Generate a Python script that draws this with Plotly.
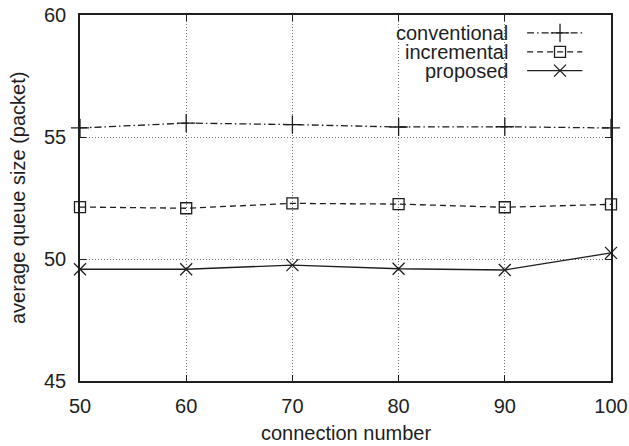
import plotly.graph_objects as go

connections = [50, 60, 70, 80, 90, 100]
conventional = [55.37, 55.57, 55.51, 55.41, 55.42, 55.37]
incremental = [52.13, 52.08, 52.28, 52.25, 52.12, 52.24]
proposed = [49.58, 49.58, 49.75, 49.60, 49.55, 50.25]

series_names = ["conventional", "incremental", "proposed"]
x_ticks = [50, 60, 70, 80, 90, 100]
y_ticks = [45, 50, 55, 60]

FONT = "Liberation Sans, Arial, Helvetica, sans-serif"
INK = "#1e1e1e"
FS = 20

styles = {
    "conventional": dict(dash="7px,3px,1.5px,3px", symbol="cross-thin", size=13),
    "incremental": dict(dash="6px,4px", symbol="square-open", size=11),
    "proposed": dict(dash="solid", symbol="x-thin", size=12),
}
data = {"conventional": conventional, "incremental": incremental, "proposed": proposed}

fig = go.Figure()
for name in series_names:
    st = styles[name]
    fig.add_trace(go.Scatter(
        x=connections, y=data[name], mode="lines+markers", name=name,
        line=dict(color=INK, width=1.3, dash=st["dash"]),
        marker=dict(symbol=st["symbol"], size=st["size"], color=INK,
                    line=dict(color=INK, width=1.3)),
        showlegend=False, cliponaxis=False,
    ))

# manual gnuplot-style legend (text right-aligned, sample to the right)
row_y = [0.951, 0.899, 0.848]
text_x = 0.81
for name, ry in zip(series_names, row_y):
    st = styles[name]
    fig.add_trace(go.Scatter(
        x=[0.842, 0.946], y=[ry, ry], mode="lines", xaxis="x2", yaxis="y2",
        line=dict(color=INK, width=1.3, dash=st["dash"]), showlegend=False,
        hoverinfo="skip",
    ))
    fig.add_trace(go.Scatter(
        x=[0.904], y=[ry], mode="markers", xaxis="x2", yaxis="y2",
        marker=dict(symbol=st["symbol"], size=st["size"], color=INK,
                    line=dict(color=INK, width=1.3)),
        showlegend=False, hoverinfo="skip",
    ))
    fig.add_annotation(x=text_x, y=ry, xref="paper", yref="paper", text=name,
                       showarrow=False, xanchor="right", yanchor="middle",
                       font=dict(family=FONT, size=FS, color=INK))

fig.add_shape(type="rect", xref="paper", yref="paper", x0=0.585, x1=0.997,
              y0=0.806, y1=0.997, fillcolor="white", line=dict(width=0),
              layer="between")

# axis titles placed like gnuplot
fig.add_annotation(x=0.5, y=0, xref="paper", yref="paper", text="connection number",
                   showarrow=False, xanchor="center", yanchor="middle", yshift=-52,
                   font=dict(family=FONT, size=FS, color=INK))
fig.add_annotation(x=0, y=0.5, xref="paper", yref="paper",
                   text="average queue size (packet)", textangle=-90,
                   showarrow=False, xanchor="center", yanchor="middle", xshift=-62,
                   font=dict(family=FONT, size=FS, color=INK))

axis_common = dict(
    showline=True, linecolor=INK, linewidth=1.5, mirror="ticks",
    ticks="inside", ticklen=6, tickwidth=1, tickcolor=INK,
    showgrid=True, gridcolor="#707070", gridwidth=1, griddash="1px,2px",
    zeroline=False, automargin=False,
    tickfont=dict(family=FONT, size=FS, color=INK),
)

fig.update_layout(
    width=629, height=446,
    margin=dict(l=80, r=18, t=15, b=65),
    paper_bgcolor="white", plot_bgcolor="white",
    font=dict(family=FONT, size=FS, color=INK),
    xaxis=dict(range=[50, 100], tickvals=x_ticks, ticktext=[str(v) for v in x_ticks],
               ticklabelstandoff=6, **axis_common),
    yaxis=dict(range=[45, 60], tickvals=y_ticks, ticktext=[str(v) for v in y_ticks],
               ticklabelstandoff=8, **axis_common),
    xaxis2=dict(overlaying="x", range=[0, 1], visible=False, fixedrange=True),
    yaxis2=dict(overlaying="y", range=[0, 1], visible=False, fixedrange=True),
)

fig.write_html("out.html", config={"displayModeBar": False},
               post_script="document.body.style.margin='0';document.body.style.padding='0';")
